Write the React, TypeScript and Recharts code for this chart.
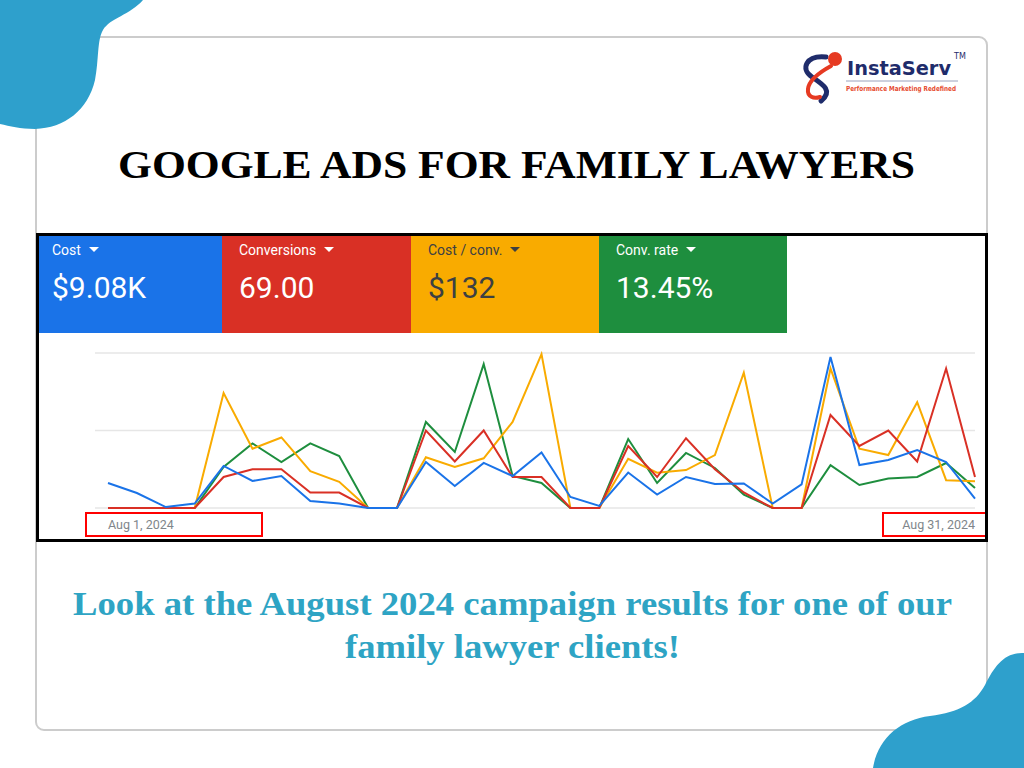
import React from "react";
import { LineChart, Line, XAxis, YAxis, CartesianGrid } from "recharts";

const dates = [
  "Aug 1, 2024", "Aug 2, 2024", "Aug 3, 2024", "Aug 4, 2024", "Aug 5, 2024", "Aug 6, 2024",
  "Aug 7, 2024", "Aug 8, 2024", "Aug 9, 2024", "Aug 10, 2024", "Aug 11, 2024", "Aug 12, 2024",
  "Aug 13, 2024", "Aug 14, 2024", "Aug 15, 2024", "Aug 16, 2024", "Aug 17, 2024", "Aug 18, 2024",
  "Aug 19, 2024", "Aug 20, 2024", "Aug 21, 2024", "Aug 22, 2024", "Aug 23, 2024", "Aug 24, 2024",
  "Aug 25, 2024", "Aug 26, 2024", "Aug 27, 2024", "Aug 28, 2024", "Aug 29, 2024", "Aug 30, 2024",
  "Aug 31, 2024",
];

const cost = [258, 155, 10, 46, 434, 279, 330, 72, 46, 0, 0, 475, 227, 465, 330, 573, 114, 21, 366, 139, 320, 248, 253, 46, 243, 1559, 444, 495, 599, 475, 98];
const conversions = [0, 0, 0, 0, 2, 2.5, 2.5, 1, 1, 0, 0, 5, 3, 5, 2, 2, 0, 0, 4, 2, 4.5, 2.5, 1, 0, 0, 6, 4, 5, 3, 9, 2];
const costPerConv = [0, 0, 0, 0, 215, 111, 132, 69, 49, 0, 0, 95, 77, 93, 161, 288, 0, 0, 92, 66, 71, 99, 253, 0, 0, 261, 111, 99, 198, 52, 50];
const convRate = [0, 0, 0, 0, 15.9, 25.0, 17.8, 25.0, 20.1, 0, 0, 33.3, 21.7, 55.7, 12.4, 9.7, 0, 0, 26.7, 9.7, 21.3, 15.5, 5.2, 0, 0, 16.6, 8.9, 11.4, 12.0, 17.4, 7.7];

const tickLabels = [dates[0], dates[dates.length - 1]];

const tiles = [
  { label: "Cost", value: "$9.08K", bg: "#1a73e8", fg: "#ffffff", width: 183, pad: 13 },
  { label: "Conversions", value: "69.00", bg: "#d93025", fg: "#ffffff", width: 189, pad: 17 },
  { label: "Cost / conv.", value: "$132", bg: "#f9ab00", fg: "#3c4043", width: 188, pad: 17 },
  { label: "Conv. rate", value: "13.45%", bg: "#1e8e3e", fg: "#ffffff", width: 188, pad: 17 },
];

const data = dates.map((d, i) => ({
  date: d,
  cost: cost[i],
  conversions: conversions[i],
  costPerConv: costPerConv[i],
  convRate: convRate[i],
}));

const DateTick = (props: any) => {
  const { x, y, payload } = props;
  const isFirst = payload.value === tickLabels[0];
  return (
    <text
      x={x}
      y={y}
      dy={13}
      textAnchor={isFirst ? "start" : "end"}
      fill="#80868b"
      fontSize={12.5}
      fontFamily="Roboto, sans-serif"
    >
      {payload.value}
    </text>
  );
};

export default function App() {
  let tileX = 39;
  return (
    <div style={{ position: "absolute", left: 0, top: 0, width: 1024, height: 768, background: "#fff", overflow: "hidden", fontFamily: "Roboto, sans-serif" }}>
      <svg width={1024} height={768} style={{ position: "absolute", left: 0, top: 0 }}>
        <rect x={36} y={37} width={951} height={693} rx={8} fill="none" stroke="#cccccc" strokeWidth={2} />
        <path d="M0,0 L143,0 C130,15 110,18 103,30 C97,40 99,60 95,80 C88,110 65,128 35,129 C20,129 10,126 0,124 Z" fill="#2ea0cc" />
        <path d="M1024,653 C1005,652 995,665 985,685 C975,703 960,712 930,716 C900,720 878,738 873,768 L1024,768 Z" fill="#2ea0cc" />
        <text x={118} y={178} fontFamily="'Liberation Serif', serif" fontWeight="bold" fontSize={41} fill="#000" textLength={797} lengthAdjust="spacingAndGlyphs">
          GOOGLE ADS FOR FAMILY LAWYERS
        </text>
        <text x={73} y={615} fontFamily="'Liberation Serif', serif" fontWeight="bold" fontSize={33} fill="#2ea4c4" textLength={879} lengthAdjust="spacingAndGlyphs">
          Look at the August 2024 campaign results for one of our
        </text>
        <text x={345} y={658} fontFamily="'Liberation Serif', serif" fontWeight="bold" fontSize={33} fill="#2ea4c4" textLength={335} lengthAdjust="spacingAndGlyphs">
          family lawyer clients!
        </text>
        {/* logo */}
        <path d="M826,57 C806,55 800,69 812,77 C824,85 833,91 821,101" fill="none" stroke="#1f2c6b" strokeWidth={5} strokeLinecap="round" />
        <path d="M831,66 C820,72 809,80 808,89 C807,97 814,99 820,97" fill="none" stroke="#e63a22" strokeWidth={4} strokeLinecap="round" />
        <circle cx={835} cy={59} r={7} fill="#e63a22" />
        <text x={847} y={75} fontFamily="'DejaVu Sans', sans-serif" fontWeight="bold" fontSize={20} fill="#1f2c6b" textLength={104} lengthAdjust="spacingAndGlyphs">
          InstaServ
        </text>
        <text x={954} y={59} fontFamily="'DejaVu Sans', sans-serif" fontSize={8} fill="#1f2c6b">TM</text>
        <line x1={846} y1={81} x2={958} y2={81} stroke="#9aa2bd" strokeWidth={1} />
        <text x={846} y={91} fontFamily="'DejaVu Sans', sans-serif" fontWeight="bold" fontSize={7} fill="#e64a2e" textLength={110} lengthAdjust="spacingAndGlyphs">
          Performance Marketing Redefined
        </text>
      </svg>

      <div style={{ position: "absolute", left: 36, top: 233, width: 952, height: 309, background: "#fff" }} />

      {tiles.map((t) => {
        const left = tileX;
        tileX += t.width;
        return (
          <div key={t.label} style={{ position: "absolute", left, top: 236, width: t.width, height: 97, background: t.bg, color: t.fg }}>
            <div style={{ position: "absolute", left: t.pad, top: 4, fontSize: 14, lineHeight: "20px", whiteSpace: "nowrap", display: "flex", alignItems: "center" }}>
              <span>{t.label}</span>
              <svg width={10} height={6} style={{ marginLeft: 8 }}>
                <path d="M0,0 L10,0 L5,5 Z" fill={t.fg} />
              </svg>
            </div>
            <div style={{ position: "absolute", left: t.pad, top: 34, fontSize: 30, lineHeight: "36px", whiteSpace: "nowrap" }}>{t.value}</div>
          </div>
        );
      })}

      <div style={{ position: "absolute", left: 0, top: 340 }}>
        <LineChart width={1000} height={200} data={data} margin={{ top: 13, right: 25, left: 95, bottom: 0 }}>
          <CartesianGrid vertical={false} stroke="#e6e6e6" strokeWidth={1.5} yAxisId="cost" />
          <XAxis dataKey="date" ticks={tickLabels} interval={0} tick={<DateTick />} axisLine={false} tickLine={false} height={32} padding={{ left: 13, right: 0 }} />
          <YAxis yAxisId="cost" hide domain={[0, 1600]} ticks={[0, 800, 1600]} />
          <YAxis yAxisId="conversions" hide domain={[0, 10]} />
          <YAxis yAxisId="costPerConv" hide domain={[0, 290]} />
          <YAxis yAxisId="convRate" hide domain={[0, 60]} />
          <Line yAxisId="convRate" type="linear" dataKey="convRate" stroke="#1e8e3e" strokeWidth={2} dot={false} isAnimationActive={false} />
          <Line yAxisId="costPerConv" type="linear" dataKey="costPerConv" stroke="#f9ab00" strokeWidth={2} dot={false} isAnimationActive={false} />
          <Line yAxisId="conversions" type="linear" dataKey="conversions" stroke="#d93025" strokeWidth={2} dot={false} isAnimationActive={false} />
          <Line yAxisId="cost" type="linear" dataKey="cost" stroke="#1a73e8" strokeWidth={2} dot={false} isAnimationActive={false} />
        </LineChart>
      </div>

      <div style={{ position: "absolute", left: 85, top: 512, width: 178, height: 25, border: "2px solid #ff0000", boxSizing: "border-box" }} />
      <div style={{ position: "absolute", left: 882, top: 512, width: 106, height: 25, border: "2px solid #ff0000", boxSizing: "border-box" }} />
      <div style={{ position: "absolute", left: 36, top: 233, width: 952, height: 309, border: "3px solid #000", boxSizing: "border-box", pointerEvents: "none" }} />
    </div>
  );
}
